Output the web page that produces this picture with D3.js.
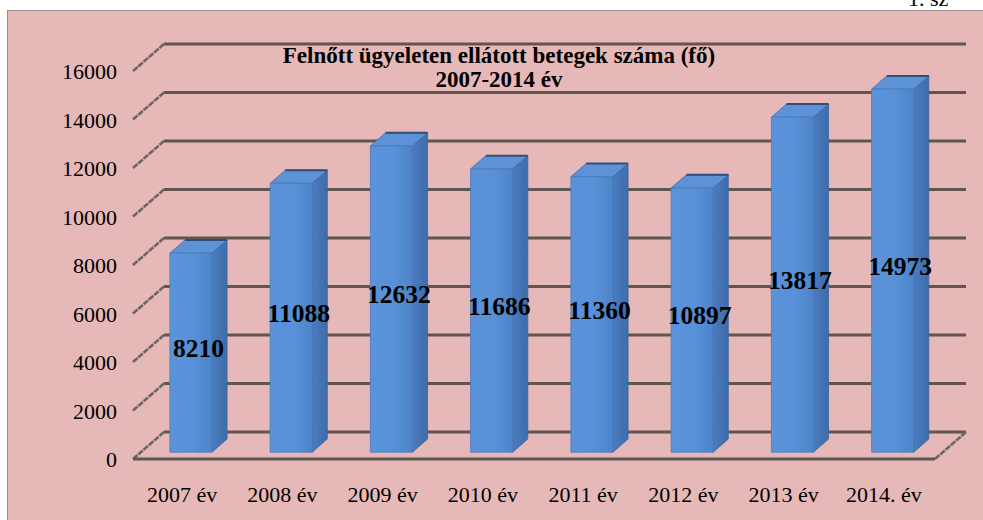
<!DOCTYPE html>
<html>
<head>
<meta charset="utf-8">
<script src="https://cdn.jsdelivr.net/npm/d3@7"></script>
<style>
  html, body { margin: 0; padding: 0; background: #fff; overflow: hidden; }
  text { font-family: "Liberation Serif", "Times New Roman", serif; }
</style>
</head>
<body>
<script>
// chart data
const years = ["2007 év", "2008 év", "2009 év", "2010 év", "2011 év", "2012 év", "2013 év", "2014. év"];
const patients = [8210, 11088, 12632, 11686, 11360, 10897, 13817, 14973];
const yTicks = [0, 2000, 4000, 6000, 8000, 10000, 12000, 14000, 16000];
const titleLines = ["Felnőtt ügyeleten ellátott betegek száma (fő)", "2007-2014 év"];

const W = 983, H = 520;
// depth offset of the 3D box (front -> back)
const depth = {dx: 31, dy: -27};

const svg = d3.select("body").append("svg")
    .attr("width", W)
    .attr("height", H);

const defs = svg.append("defs");
const grad = defs.append("linearGradient").attr("id", "front").attr("x1", 0).attr("x2", 1).attr("y1", 0).attr("y2", 0);
grad.append("stop").attr("offset", "0%").attr("stop-color", "#5a93d9");
grad.append("stop").attr("offset", "55%").attr("stop-color", "#5891d7");
grad.append("stop").attr("offset", "100%").attr("stop-color", "#4d84c9");
const sgrad = defs.append("linearGradient").attr("id", "side").attr("x1", 0).attr("x2", 1).attr("y1", 0).attr("y2", 0);
sgrad.append("stop").attr("offset", "0%").attr("stop-color", "#4a7cbf");
sgrad.append("stop").attr("offset", "100%").attr("stop-color", "#3e6cab");

// pink frame
svg.append("rect")
    .attr("x", 7.5).attr("y", 10.5)
    .attr("width", W).attr("height", H)
    .attr("fill", "#e6b9b8")
    .attr("stroke", "#9c8c8c")
    .attr("stroke-width", 1);

// cut-off text above the frame
svg.append("text")
    .attr("x", 908).attr("y", 6)
    .attr("font-size", 22)
    .attr("fill", "#000")
    .text("1.   sz");

// scales (front plane)
const x = d3.scaleBand()
    .domain(years)
    .range([133, 935])
    .paddingInner(0)
    .paddingOuter(0);

const y = d3.scaleLinear()
    .domain([0, 16000])
    .range([459, 71]);

function P(px, py, z) { return [px + depth.dx * z, py + depth.dy * z]; }

const gridColor = "#5f5551";

// back wall gridlines + left diagonal ticks
const grid = svg.append("g");
yTicks.forEach(t => {
  const f = P(x.range()[0], y(t), 0), b = P(x.range()[0], y(t), 1);
  const bEnd = P(x.range()[1], y(t), 1);
  grid.append("line")
      .attr("x1", f[0]).attr("y1", f[1]).attr("x2", b[0]).attr("y2", b[1])
      .attr("stroke", "#6e6562").attr("stroke-width", 2.6)
      .attr("stroke-dasharray", "6,1");
  if (t > 0) {
    grid.append("line")
        .attr("x1", b[0]).attr("y1", b[1]).attr("x2", bEnd[0]).attr("y2", bEnd[1])
        .attr("stroke", gridColor).attr("stroke-width", 3);
  }
});

// floor
const f0 = [P(133, y(0), 0), P(935, y(0), 0), P(935, y(0), 1), P(133, y(0), 1)];
grid.append("line")
    .attr("x1", f0[3][0]).attr("y1", f0[3][1]).attr("x2", f0[2][0]).attr("y2", f0[2][1])
    .attr("stroke", gridColor).attr("stroke-width", 3);
grid.append("line")
    .attr("x1", f0[0][0]).attr("y1", f0[0][1]).attr("x2", f0[1][0]).attr("y2", f0[1][1])
    .attr("stroke", gridColor).attr("stroke-width", 3);
grid.append("line")
    .attr("x1", f0[1][0]).attr("y1", f0[1][1]).attr("x2", f0[2][0]).attr("y2", f0[2][1])
    .attr("stroke", "#6e6562").attr("stroke-width", 2.6)
    .attr("stroke-dasharray", "6,1");

// title
svg.append("g").selectAll("text")
    .data(titleLines)
  .enter().append("text")
    .attr("x", 499)
    .attr("y", (d, i) => 63 + i * 24)
    .attr("text-anchor", "middle")
    .attr("font-size", 23)
    .attr("font-weight", "bold")
    .text(d => d);

// bars
const barW = 42, zf = 0.25, zb = 0.74;
const bars = svg.append("g");
years.forEach((yr, i) => {
  const v = patients[i];
  const x0 = x(yr) + (x.bandwidth() - barW) / 2, x1 = x0 + barW;
  const fl = P(x0, y(v), zf), fr = P(x1, y(v), zf);
  const bl = P(x0, y(0), zf), br = P(x1, y(0), zf);
  const tl = P(x0, y(v), zb), tr = P(x1, y(v), zb), sb = P(x1, y(0), zb);
  const g = bars.append("g");
  // side
  g.append("path")
      .attr("d", d3.line()([fr, tr, sb, br]) + "Z")
      .attr("fill", "url(#side)")
      .attr("stroke", "#3a66a0").attr("stroke-width", 0.8);
  // top
  g.append("path")
      .attr("d", d3.line()([fl, tl, tr, fr]) + "Z")
      .attr("fill", "#5d93d6")
      .attr("stroke", "#3f6aa3").attr("stroke-width", 0.8);
  g.append("line")
      .attr("x1", tl[0]).attr("y1", tl[1]).attr("x2", tr[0]).attr("y2", tr[1])
      .attr("stroke", "#2f4e7a").attr("stroke-width", 2);
  // front
  g.append("path")
      .attr("d", d3.line()([fl, fr, br, bl]) + "Z")
      .attr("fill", "url(#front)")
      .attr("stroke", "#4a7bbb").attr("stroke-width", 0.8);
  // value label
  const mid = (fl[1] + bl[1]) / 2;
  g.append("text")
      .attr("x", (fl[0] + tr[0]) / 2)
      .attr("y", mid + 4)
      .attr("text-anchor", "middle")
      .attr("font-size", 25.5)
      .attr("font-weight", "bold")
      .attr("fill", "#000")
      .text(v);
});

// y axis labels
svg.append("g").selectAll("text")
    .data(yTicks)
  .enter().append("text")
    .attr("x", 117)
    .attr("y", d => y(d) + 8)
    .attr("text-anchor", "end")
    .attr("font-size", 22)
    .text(d => d);

// x axis labels
svg.append("g").selectAll("text")
    .data(years)
  .enter().append("text")
    .attr("x", d => x(d) + x.bandwidth() / 2 - 1)
    .attr("y", 502)
    .attr("text-anchor", "middle")
    .attr("font-size", 22)
    .text(d => d);
</script>
</body>
</html>
